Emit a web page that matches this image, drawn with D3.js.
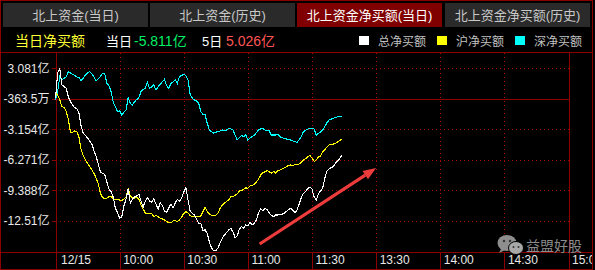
<!DOCTYPE html>
<html>
<head>
<meta charset="utf-8">
<script src="https://cdn.jsdelivr.net/npm/d3@7"></script>
<style>
  body { margin: 0; background: #000; }
  svg { display: block; font-family: "Liberation Sans", "Noto Sans CJK SC", sans-serif; }
</style>
</head>
<body>
<script>
// tabs and header
var tabs = ["北上资金(当日)", "北上资金(历史)", "北上资金净买额(当日)", "北上资金净买额(历史)"];
var activeTab = 2;
var todayNet = "-5.811亿";
var fiveDayNet = "5.026亿";
var seriesNames = ["总净买额", "沪净买额", "深净买额"];
var seriesColors = ["#ffffff", "#ffff00", "#00ffff"];

// axis ticks (x in trading minutes from 09:30)
var xTicks = [0, 30, 60, 90, 120, 150, 180, 210, 240];
var xLabels = ["12/15", "10:00", "10:30", "11:00", "11:30", "13:30", "14:00", "14:30", "15:00"];
var yTicks = [3.081, -0.03635, -3.154, -6.271, -9.388, -12.505];
var yLabels = ["3.081亿", "-363.5万", "-3.154亿", "-6.271亿", "-9.388亿", "-12.51亿"];

// one value per minute since 09:30, in 亿
var total = [
  0.00, 2.60, 3.05, 1.40, 1.20, 1.04, 0.18, -0.33, -0.67, -0.94,
  -1.07, -1.51, -2.81, -3.55, -3.77, -4.03, -4.34, -4.64, -5.35, -5.87,
  -6.68, -7.50, -7.63, -7.76, -8.49, -9.24, -9.51, -10.06, -11.18, -11.64,
  -12.20, -12.10, -10.98, -10.26, -9.24, -10.67, -10.26, -10.03, -9.96, -9.75,
  -10.47, -11.08, -10.47, -10.11, -10.47, -10.57, -10.26, -10.77, -11.33, -10.67,
  -10.92, -11.49, -11.59, -11.18, -10.77, -11.18, -10.67, -10.31, -10.47, -10.16,
  -9.55, -9.09, -10.36, -11.49, -11.74, -11.86, -12.35, -12.76, -12.76, -13.50,
  -13.40, -13.80, -14.65, -15.26, -15.54, -15.54, -15.26, -14.75, -14.29, -13.94,
  -13.68, -13.43, -13.25, -13.60, -14.19, -14.04, -13.32, -13.09, -13.25, -12.92,
  -13.02, -12.61, -12.92, -12.74, -12.39, -11.68, -11.27, -11.47, -11.22, -11.37,
  -11.68, -11.94, -12.06, -11.89, -11.89, -11.84, -11.81, -11.74, -11.53, -11.33,
  -11.21, -11.38, -11.68, -11.38, -10.76, -10.10, -9.69, -9.49, -9.19, -9.03,
  -9.24, -10.05, -10.36, -9.75, -9.44, -9.13, -8.16, -7.39, -7.19, -7.04,
  -6.96, -6.58, -6.38, -6.12, -5.81
];
var shanghai = [
  0.53, 0.35, -0.15, -0.84, -0.90, -1.33, -2.09, -3.47, -3.47, -3.32,
  -3.37, -3.98, -5.25, -5.82, -6.27, -6.63, -6.96, -7.30, -7.65, -8.11,
  -8.68, -9.68, -10.10, -10.21, -10.16, -10.02, -10.02, -10.26, -10.36, -10.31,
  -10.36, -10.43, -10.26, -10.06, -9.19, -9.96, -10.16, -10.16, -10.09, -10.26,
  -10.87, -11.28, -11.69, -11.72, -11.72, -11.72, -12.05, -11.95, -12.05, -12.23,
  -12.30, -12.40, -12.56, -12.66, -12.71, -12.51, -12.46, -12.58, -12.40, -12.10,
  -11.74, -11.56, -11.69, -11.95, -12.05, -12.07, -12.07, -12.05, -12.00, -11.56,
  -11.11, -11.56, -11.79, -11.95, -11.97, -11.93, -11.69, -11.23, -10.87, -10.67,
  -10.52, -10.36, -10.03, -10.03, -9.90, -9.75, -9.44, -9.39, -9.29, -9.11,
  -9.17, -8.93, -8.88, -8.76, -8.53, -8.22, -7.81, -7.56, -7.50, -7.35,
  -7.50, -7.61, -7.45, -7.61, -7.40, -7.30, -7.20, -7.10, -6.99, -6.84,
  -6.79, -6.89, -6.74, -6.79, -6.69, -6.53, -6.28, -6.13, -5.97, -5.82,
  -6.08, -6.43, -6.28, -5.97, -5.87, -5.46, -5.21, -4.95, -4.75, -4.70,
  -4.65, -4.57, -4.44, -4.29, -4.14
];
var shenzhen = [
  -0.16, 0.69, 2.22, 1.89, 2.06, 2.22, 2.73, 2.60, 2.47, 2.33,
  2.20, 2.12, 1.79, 2.10, 2.40, 2.60, 2.73, 2.50, 2.22, 1.79,
  2.00, 2.22, 2.57, 2.57, 1.55, 1.30, 0.70, -0.36, -0.84, -1.35,
  -1.25, -1.68, -1.40, -1.17, 0.08, -0.50, -0.67, -0.33, -0.10, 0.08,
  0.69, 0.90, 1.04, 1.65, 1.04, 1.20, 1.38, 0.87, 1.20, 1.45,
  1.71, 1.96, 1.30, 1.04, 1.55, 1.70, 1.89, 1.55, 2.22, 2.35,
  2.47, 2.33, 1.90, 0.43, 0.02, -0.15, -0.26, -0.49, -1.35, -1.61,
  -1.68, -2.53, -3.22, -3.40, -3.55, -3.45, -3.38, -3.32, -3.22, -3.23,
  -3.24, -3.04, -3.10, -3.22, -3.73, -4.24, -4.00, -3.79, -3.90, -3.73,
  -4.24, -4.05, -3.90, -3.73, -3.50, -3.22, -3.10, -3.04, -3.22, -3.28,
  -3.32, -3.73, -3.73, -3.73, -3.65, -3.90, -4.00, -4.07, -4.14, -4.20,
  -4.24, -4.34, -4.40, -4.47, -4.20, -3.90, -3.39, -3.25, -3.12, -3.04,
  -3.08, -3.12, -3.73, -3.55, -3.45, -3.22, -2.85, -2.47, -2.20, -2.10,
  -2.02, -1.95, -1.86, -1.82, -1.79
];

var W = 595, H = 270;
var frame = "#8c0000";
var dots = "#a80000";

var svg = d3.select("body").append("svg")
  .attr("width", W)
  .attr("height", H);

svg.append("rect").attr("width", W).attr("height", H).attr("fill", "#000");

//tabs
var tabX = [3, 150, 297, 445];
tabs.forEach(function (t, i) {
  svg.append("rect")
    .attr("x", tabX[i]).attr("y", 3)
    .attr("width", 145).attr("height", 24)
    .attr("fill", i === activeTab ? "#800000" : "#2a2a2a");
  svg.append("text")
    .attr("x", tabX[i] + 72.5).attr("y", 20)
    .attr("text-anchor", "middle")
    .style("font-size", "13px")
    .attr("fill", i === activeTab ? "#ffffff" : "#c8c8c8")
    .text(t);
});

//header line
svg.append("text").attr("x", 15).attr("y", 46).style("font-size", "14px").attr("fill", "#ffff33").text("当日净买额");
svg.append("text").attr("x", 106).attr("y", 46).style("font-size", "13px").attr("fill", "#ffffff").text("当日");
svg.append("text").attr("x", 134).attr("y", 46).style("font-size", "14px").attr("fill", "#00ee66").text(todayNet);
svg.append("text").attr("x", 202).attr("y", 46).style("font-size", "13px").attr("fill", "#ffffff").text("5日");
svg.append("text").attr("x", 226).attr("y", 46).style("font-size", "14px").attr("fill", "#ff5555").text(fiveDayNet);

//legend
var legX = [359, 437, 515];
seriesNames.forEach(function (n, i) {
  svg.append("rect").attr("x", legX[i]).attr("y", 36).attr("width", 10).attr("height", 9).attr("fill", seriesColors[i]);
  svg.append("text").attr("x", legX[i] + 19).attr("y", 46).style("font-size", "12px").attr("fill", "#c0c0c0").text(n);
});

//scales
var x = d3.scaleLinear().domain([0, 240]).range([55.5, 568.5]);
var y = d3.scaleLinear().domain([-15.67, 4.64]).range([252, 53]);

//grid
var grid = svg.append("g").attr("shape-rendering", "crispEdges");
yTicks.forEach(function (v, i) {
  grid.append("line")
    .attr("x1", 56).attr("x2", 569)
    .attr("y1", Math.round(y(v)) + 0.5).attr("y2", Math.round(y(v)) + 0.5)
    .attr("stroke", i === 1 ? frame : dots)
    .attr("stroke-dasharray", i === 1 ? null : "1,3");
});
xTicks.slice(1, -1).forEach(function (m) {
  grid.append("line")
    .attr("x1", Math.round(x(m)) + 0.5).attr("x2", Math.round(x(m)) + 0.5)
    .attr("y1", 53).attr("y2", 252)
    .attr("stroke", dots).attr("stroke-dasharray", "1,3");
});

//frame lines
var fr = svg.append("g").attr("stroke", frame).attr("shape-rendering", "crispEdges");
fr.append("rect").attr("x", 0.5).attr("y", 0.5).attr("width", 592).attr("height", 269).attr("fill", "none");
fr.append("line").attr("x1", 0).attr("x2", 593).attr("y1", 52.5).attr("y2", 52.5);
fr.append("line").attr("x1", 0).attr("x2", 593).attr("y1", 252.5).attr("y2", 252.5);
fr.append("line").attr("x1", 569.5).attr("x2", 569.5).attr("y1", 52).attr("y2", 270);

//y axis
var yAxis = d3.axisLeft(y)
  .tickValues(yTicks)
  .tickFormat(function (d, i) { return yLabels[i]; })
  .tickSize(5)
  .tickPadding(2);
var gy = svg.append("g")
  .attr("transform", "translate(56.5,0)")
  .call(yAxis);
gy.select(".domain").remove();
gy.append("line").attr("y1", 52).attr("y2", 270).attr("stroke", frame).attr("shape-rendering", "crispEdges");
gy.selectAll(".tick line").attr("stroke", frame).attr("shape-rendering", "crispEdges");
gy.selectAll(".tick text")
  .attr("fill", "#e8e8e8")
  .style("font-size", "12px")
  .style("font-family", "'Liberation Sans','Noto Sans CJK SC',sans-serif");

//x axis
svg.append("clipPath").attr("id", "xclip")
  .append("rect").attr("x", 0).attr("y", 252).attr("width", 592).attr("height", 18);
var xAxis = d3.axisBottom(x)
  .tickValues(xTicks)
  .tickFormat(function (d, i) { return xLabels[i]; })
  .tickSize(17);
var gx = svg.append("g")
  .attr("clip-path", "url(#xclip)")
  .append("g")
  .attr("transform", "translate(0,252.5)")
  .call(xAxis);
gx.select(".domain").remove();
gx.selectAll(".tick line").attr("stroke", frame).attr("shape-rendering", "crispEdges");
gx.selectAll(".tick text")
  .attr("text-anchor", "start")
  .attr("x", 3)
  .attr("y", 3)
  .attr("fill", "#e8e8e8")
  .style("font-size", "12px")
  .style("font-family", "'Liberation Sans',sans-serif");
gx.selectAll(".tick").filter(function (d) { return d === 0; }).select("text").attr("x", 5);

//lines
var line = d3.line()
  .x(function (d, i) { return x(i); })
  .y(function (d) { return y(d); });
[shenzhen, shanghai, total].forEach(function (s, k) {
  svg.append("path")
    .datum(s)
    .attr("d", line)
    .attr("fill", "none")
    .attr("stroke", seriesColors[2 - k])
    .attr("stroke-width", 1.1)
    .attr("shape-rendering", "crispEdges");
});

//red arrow annotation
var a0 = [x(95.5), y(-14.85)], a1 = [x(150), y(-7.1)];
var ang = Math.atan2(a1[1] - a0[1], a1[0] - a0[0]);
var headLen = 13, headW = 5;
var base = [a1[0] - headLen * Math.cos(ang), a1[1] - headLen * Math.sin(ang)];
svg.append("line")
  .attr("x1", a0[0]).attr("y1", a0[1])
  .attr("x2", base[0]).attr("y2", base[1])
  .attr("stroke", "#ee3b3b").attr("stroke-width", 3.2);
svg.append("path")
  .attr("d", "M" + a1[0] + "," + a1[1] +
    "L" + (base[0] + headW * Math.sin(ang)) + "," + (base[1] - headW * Math.cos(ang)) +
    "L" + (base[0] - headW * Math.sin(ang)) + "," + (base[1] + headW * Math.cos(ang)) + "Z")
  .attr("fill", "#ee3b3b");

//watermark
var wm = svg.append("g");
wm.append("ellipse").attr("cx", 507).attr("cy", 243).attr("rx", 9.5).attr("ry", 8).attr("fill", "#8e8e8e");
wm.append("path").attr("d", "M501,249 L499,253 L505,250 Z").attr("fill", "#8e8e8e");
wm.append("circle").attr("cx", 504).attr("cy", 241).attr("r", 1.2).attr("fill", "#333");
wm.append("circle").attr("cx", 510).attr("cy", 241).attr("r", 1.2).attr("fill", "#333");
wm.append("ellipse").attr("cx", 516).attr("cy", 248).attr("rx", 7.5).attr("ry", 6.5).attr("fill", "#a8a8a8").attr("stroke", "#000").attr("stroke-width", 1);
wm.append("circle").attr("cx", 513.5).attr("cy", 247).attr("r", 1).attr("fill", "#333");
wm.append("circle").attr("cx", 518.5).attr("cy", 247).attr("r", 1).attr("fill", "#333");
wm.append("text").attr("x", 526).attr("y", 251).style("font-size", "14px").attr("fill", "#8c8c8c").text("益盟好股");
</script>
</body>
</html>
